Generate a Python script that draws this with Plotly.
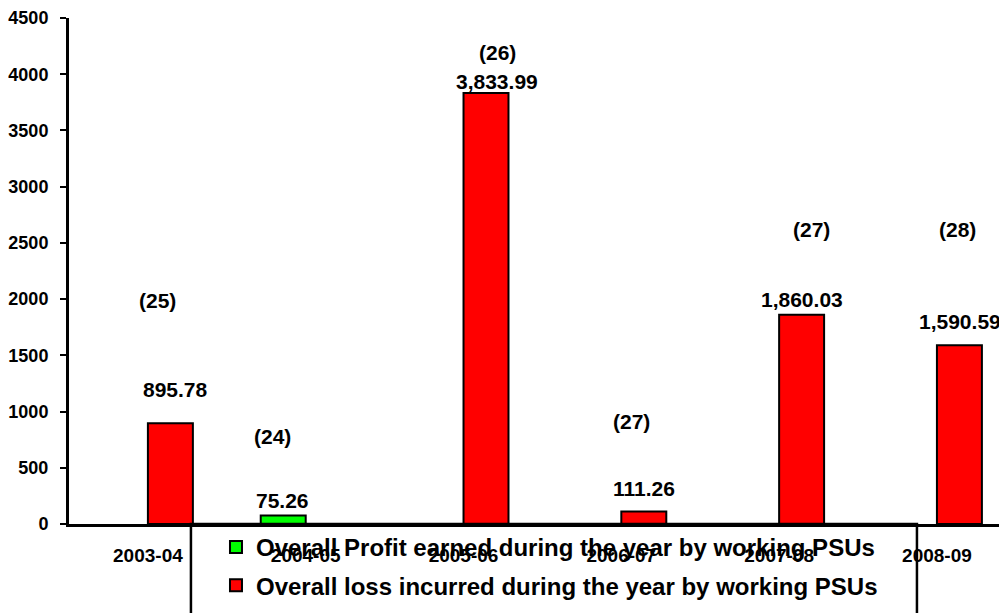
import plotly.graph_objects as go

# dados
years = ["2003-04", "2004-05", "2005-06", "2006-07", "2007-08", "2008-09"]
profit = [None, 75.26, None, None, None, None]
loss = [895.78, None, 3833.99, 111.26, 1860.03, 1590.59]
psu_count = [25, 24, 26, 27, 27, 28]
y_ticks = [0, 500, 1000, 1500, 2000, 2500, 3000, 3500, 4000, 4500]

# onde ficam os rótulos (unidades de categoria / valor do eixo)
value_dx = [0.177, -0.146, 0.215, 0.142, 0.146, 0.146]
value_y = [1192, 213, 3931, 320, 2001, 1797]
count_dx = [0.063, -0.209, 0.215, 0.066, 0.203, 0.133]
count_y = [1992, 774, 4189, 916, 2615, 2615]

FONT = "Arial, Liberation Sans, sans-serif"

fig = go.Figure()
fig.add_trace(go.Bar(
    x=years, y=profit, name="Overall Profit earned during the year by working PSUs",
    marker=dict(color="#00FF00", line=dict(color="black", width=2)),
    legendgroup="p",
))
fig.add_trace(go.Bar(
    x=years, y=loss, name="Overall loss incurred during the year by working PSUs",
    marker=dict(color="#FF0000", line=dict(color="black", width=2)),
    legendgroup="l",
))

vals = [p if p is not None else l for p, l in zip(profit, loss)]
for i, v in enumerate(vals):
    fig.add_annotation(x=i + value_dx[i], y=value_y[i], text=f"{v:,.2f}",
                       showarrow=False,
                       font=dict(size=21, color="black", family=FONT, weight="bold"))
    fig.add_annotation(x=i + count_dx[i], y=count_y[i], text=f"({psu_count[i]})",
                       showarrow=False,
                       font=dict(size=21, color="black", family=FONT, weight="bold"))

# caixa da legenda (a legenda do plotly fica sem borda, dentro desta caixa)
fig.add_shape(type="rect", xref="paper", yref="paper",
              x0=0.130, x1=0.904, y0=-0.25, y1=0,
              line=dict(color="black", width=2.5), fillcolor="rgba(0,0,0,0)")

fig.update_layout(
    width=1007, height=613,
    # a página tem 8px de margem no body, compensado aqui
    margin=dict(l=61, r=8, t=10, b=97, autoexpand=False),
    paper_bgcolor="white", plot_bgcolor="white",
    barmode="group", bargap=0.43, bargroupgap=0,
    font=dict(family=FONT, color="black"),
    showlegend=True,
    legend=dict(
        x=0.1567, y=-0.002, xanchor="left", yanchor="top",
        bgcolor="rgba(0,0,0,0)", borderwidth=0,
        font=dict(size=24, family=FONT, color="black", weight="bold"),
        tracegroupgap=4,
    ),
)
fig.update_xaxes(
    type="category", range=[-0.5, 5.444], automargin=False,
    showline=True, linecolor="black", linewidth=3,
    ticks="", showgrid=False,
    tickfont=dict(size=19, family=FONT, weight="bold"),
    ticklabelstandoff=12,
)
fig.update_yaxes(
    range=[0, 4500], tickvals=y_ticks, automargin=False,
    showline=True, linecolor="black", linewidth=3,
    ticks="outside", ticklen=6, tickwidth=2, tickcolor="black",
    showgrid=False, zeroline=False,
    tickfont=dict(size=18, family=FONT, weight="bold"),
    ticklabelstandoff=8,
)

fig.write_html("out.html")
